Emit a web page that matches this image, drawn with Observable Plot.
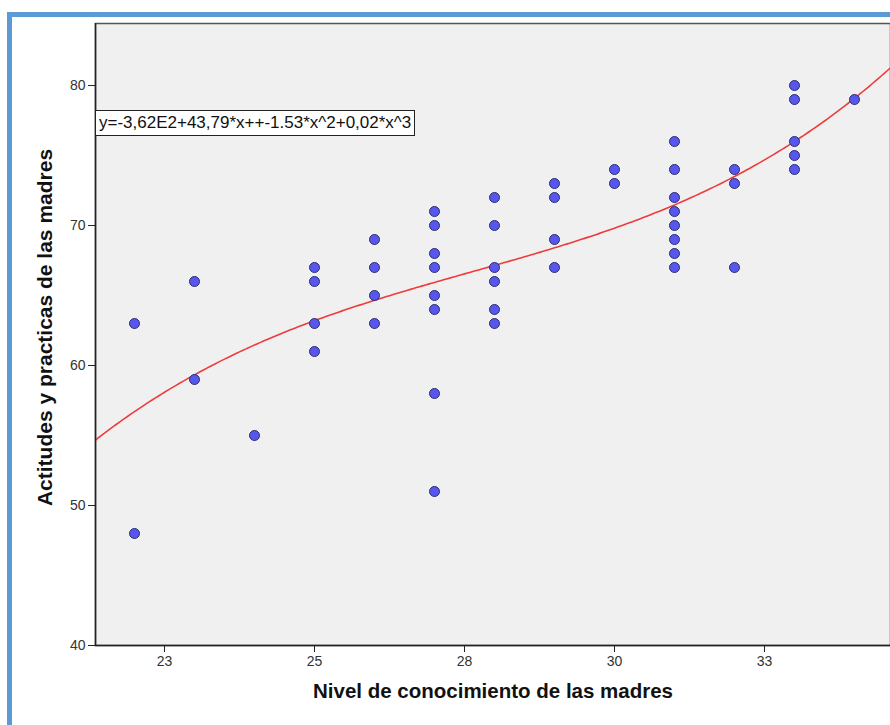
<!DOCTYPE html>
<html><head><meta charset="utf-8">
<script src="https://cdn.jsdelivr.net/npm/d3@7"></script>
<script src="https://cdn.jsdelivr.net/npm/@observablehq/plot@0.6"></script>
<style>
body{margin:0;background:#fff;font-family:"Liberation Sans",Arial,sans-serif;}
#wrap{position:relative;width:890px;height:725px;overflow:hidden;}
#frame{position:absolute;left:7px;top:12px;width:900px;height:800px;border-left:5px solid #5b9bd5;border-top:5px solid #5b9bd5;box-sizing:border-box;}
#eq{position:absolute;left:95px;top:110px;height:24px;line-height:24px;padding:0 3px;background:#fff;border:1px solid #222;font-size:17px;color:#111;white-space:nowrap;}
</style></head>
<body><div id="wrap"><div id="frame"></div><div id="chart"></div><div id="eq"></div></div>
<script>
// Data: Nivel de conocimiento (x) vs Actitudes y practicas (y)
const conocimiento = [22,22, 23,23, 24, 25,25,25,25, 26,26,26,26, 27,27,27,27,27,27,27,27, 28,28,28,28,28,28, 29,29,29,29, 30,30, 31,31,31,31,31,31,31,31, 32,32,32, 33,33,33,33,33, 34];
const actitudes    = [63,48, 66,59, 55, 67,66,63,61, 69,67,65,63, 71,70,68,67,65,64,58,51, 72,70,67,66,64,63, 73,72,69,67, 74,73, 76,74,72,71,70,69,68,67, 74,73,67, 80,79,76,75,74, 79];
const xTicks = [22.5, 25, 27.5, 30, 32.5];
const xTickLabels = ["23", "25", "28", "30", "33"];
const yTicks = [40, 50, 60, 70, 80];
const equationLabel = "y=-3,62E2+43,79*x++-1.53*x^2+0,02*x^3";

const data = conocimiento.map((x, i) => ({x, y: actitudes[i]}));

// Cubic least-squares fit computed from the data
function polyfit(xs, ys, deg) {
  const n = deg + 1, mx = d3.mean(xs);
  const A = Array.from({length: n}, () => new Array(n + 1).fill(0));
  xs.forEach((x0, k) => {
    const x = x0 - mx;
    for (let i = 0; i < n; i++) {
      for (let j = 0; j < n; j++) A[i][j] += Math.pow(x, i + j);
      A[i][n] += ys[k] * Math.pow(x, i);
    }
  });
  for (let c = 0; c < n; c++) {
    let p = c; for (let r = c + 1; r < n; r++) if (Math.abs(A[r][c]) > Math.abs(A[p][c])) p = r;
    [A[c], A[p]] = [A[p], A[c]];
    for (let r = 0; r < n; r++) if (r !== c) {
      const f = A[r][c] / A[c][c];
      for (let k = c; k <= n; k++) A[r][k] -= f * A[c][k];
    }
  }
  const coef = A.map((row, i) => row[n] / row[i]);
  return x => coef.reduce((s, c, i) => s + c * Math.pow(x - mx, i), 0);
}
const fit = polyfit(conocimiento, actitudes, 3);
const xDomain = [21.35, 34.6];
const curve = d3.range(xDomain[0], xDomain[1] + 0.001, 0.05).map(x => ({x, y: fit(x)}));

const chart = Plot.plot({
  width: 890, height: 725,
  marginLeft: 95, marginRight: 0, marginTop: 23, marginBottom: 80,
  style: {background: "transparent", fontFamily: "'Liberation Sans', Arial, sans-serif", color: "#333"},
  x: {domain: xDomain, label: null},
  y: {domain: [40, 84.43], label: null},
  marks: [
    Plot.frame({fill: "#f0f0f0", stroke: "#555", strokeWidth: 1.5}),
    Plot.axisX({ticks: xTicks, tickFormat: (d, i) => xTickLabels[i], tickSize: 7, tickPadding: 4, stroke: "#222", fill: "#333", fontSize: 14, label: null}),
    Plot.axisY({ticks: yTicks, tickSize: 7, tickPadding: 3, stroke: "#222", fill: "#333", fontSize: 14, label: null}),
    Plot.line(curve, {x: "x", y: "y", stroke: "#ee3b3b", strokeWidth: 1.6, clip: true}),
    Plot.dot(data, {x: "x", y: "y", r: 5, fill: "#5757f0", stroke: "#2c2c6e", strokeWidth: 1}),
    Plot.ruleX([xDomain[0]], {stroke: "#222", strokeWidth: 1.5}),
    Plot.ruleY([40], {stroke: "#222", strokeWidth: 1.5}),
    Plot.text(["Nivel de conocimiento de las madres"], {frameAnchor: "bottom", dy: 52, fontSize: 20.5, fontWeight: "bold", fill: "#111"}),
    Plot.text(["Actitudes y practicas de las madres"], {frameAnchor: "left", dx: -50, dy: -7, rotate: -90, textAnchor: "middle", fontSize: 21, fontWeight: "bold", fill: "#111"})
  ]
});
document.getElementById("chart").appendChild(chart);
chart.style.position = "absolute"; chart.style.left = "0"; chart.style.top = "0";
document.getElementById("eq").textContent = equationLabel;
</script>
</body></html>
